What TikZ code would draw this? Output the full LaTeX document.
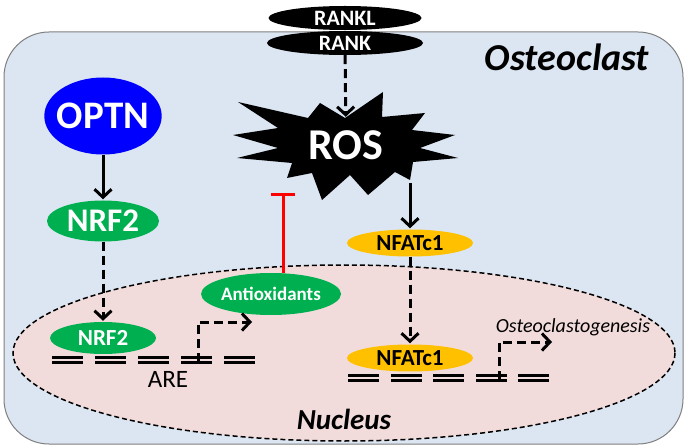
\documentclass[tikz,border=0pt]{standalone}
\usepackage{fontspec}
\setmainfont{Carlito}
\usetikzlibrary{shapes.geometric,arrows.meta,positioning}
\definecolor{cellblue}{RGB}{220,230,242}
\definecolor{nucpink}{RGB}{242,220,219}
\definecolor{optnblue}{RGB}{0,0,255}
\definecolor{nrfgreen}{RGB}{0,176,80}
\definecolor{nfatyellow}{RGB}{255,192,0}
\definecolor{framegray}{RGB}{127,127,127}
\newcommand{\fsz}[1]{\fontsize{#1}{#1}\selectfont}
\tikzset{
  blob/.style={ellipse,inner sep=0pt},
  solidarrow/.style={line width=3pt,shorten >=1pt,-{Straight Barb[length=8pt,width=17pt]}},
  dasharrow/.style={solidarrow,dash pattern=on 9pt off 5pt},
  gene/.style={line width=3pt},
  inhibit/.style={red,line width=3pt,-{Bar[width=24pt]}}
}

\begin{document}
\begin{tikzpicture}[x=1pt,y=-1pt]
\useasboundingbox (0,0) rectangle (685,446);
% Cell
\draw[framegray,fill=cellblue,line width=1pt,rounded corners=45pt] (4,32) rectangle (683,444);
\node[font=\fsz{38}\bfseries\itshape] (cell) at (567,57) {Osteoclast};
% Nucleus
\draw[fill=nucpink,dash pattern=on 5pt off 3pt,line width=1.5pt] (344,353) ellipse [x radius=331,y radius=88];
\node[font=\fsz{29}\bfseries\itshape] (nuc) at (344,419) {Nucleus};
% RANKL / RANK
\node[blob,fill=black,text=white,minimum width=153pt,minimum height=24pt,font=\fsz{22}\bfseries] (rankl) at (345,18) {RANKL};
\node[blob,fill=black,text=white,minimum width=156pt,minimum height=24pt,font=\fsz{22}\bfseries] (rank) at (345,43) {RANK};
% ROS
\fill (345,118) -- (383,92) -- (382,117) -- (425,113) -- (412,130) -- (455,135)
  -- (420,148) -- (458,158) -- (413,162) -- (410,180) -- (395,172) -- (368,195)
  -- (350,175) -- (322,200) -- (312,173) -- (287,178) -- (292,163) -- (237,158)
  -- (278,148) -- (233,135) -- (278,128) -- (238,102) -- (308,118) -- (320,103) -- cycle;
\node[font=\fsz{44}\bfseries,text=white,minimum height=54pt,inner sep=0pt] (ros) at (346,145) {ROS};
\coordinate (rosfoot) at (410,183);
\draw[dasharrow] (rank) -- (ros);
% OPTN -> NRF2
\node[blob,inner xsep=-4.5pt,fill=optnblue,text=white,minimum width=112pt,minimum height=77pt,font=\fsz{39}\bfseries] (optn) at (103,116) {OPTN};
\node[blob,fill=nrfgreen,text=white,minimum width=112pt,minimum height=41pt,font=\fsz{33}\bfseries] (nrfcyt) at (103,221) {NRF2};
\node[blob,fill=nrfgreen,text=white,minimum width=106pt,minimum height=32pt,font=\fsz{23}\bfseries] (nrfnuc) at (103,338) {NRF2};
\draw[solidarrow] (optn) -- (nrfcyt);
\draw[dasharrow] (nrfcyt) -- (nrfnuc);
% Antioxidants
\node[blob,inner xsep=-1pt,fill=nrfgreen,text=white,minimum width=140pt,minimum height=42pt,font=\fsz{19}\bfseries] (anti) at (271,294) {Antioxidants};
\coordinate (block) at (283,193);
\draw[inhibit] (anti.north -| block) -- (block);
% NFATc1
\node[blob,fill=nfatyellow,minimum width=126pt,minimum height=27pt,font=\fsz{23}\bfseries] (nfatcyt) at (410,243) {NFATc1};
\node[blob,fill=nfatyellow,minimum width=126pt,minimum height=27pt,font=\fsz{23}\bfseries] (nfatnuc) at (410,358) {NFATc1};
\draw[solidarrow] (rosfoot) -- (nfatcyt);
\draw[dasharrow] (nfatcyt) -- (nfatnuc);
% ARE gene
\foreach \x in {52,95,138,181,224} {
  \draw[gene] (\x,357) -- ++(31,0) (\x,362.5) -- ++(31,0);
}
\node[font=\fsz{25}] (are) at (168,379) {ARE};
\coordinate (areTSS) at (198,362);
\coordinate (areOut) at (253,322);
\draw[dasharrow] (areTSS) |- (areOut);
% NFATc1 target gene
\foreach \x in {348,391,433,476,518} {
  \draw[gene] (\x,375) -- ++(31,0) (\x,380.5) -- ++(31,0);
}
\coordinate (nfatTSS) at (499,380);
\coordinate (nfatOut) at (553,342);
\draw[dasharrow] (nfatTSS) |- (nfatOut);
\node[font=\fsz{20}\itshape] (ocg) at (573,327) {Osteoclastogenesis};
\end{tikzpicture}
\end{document}
